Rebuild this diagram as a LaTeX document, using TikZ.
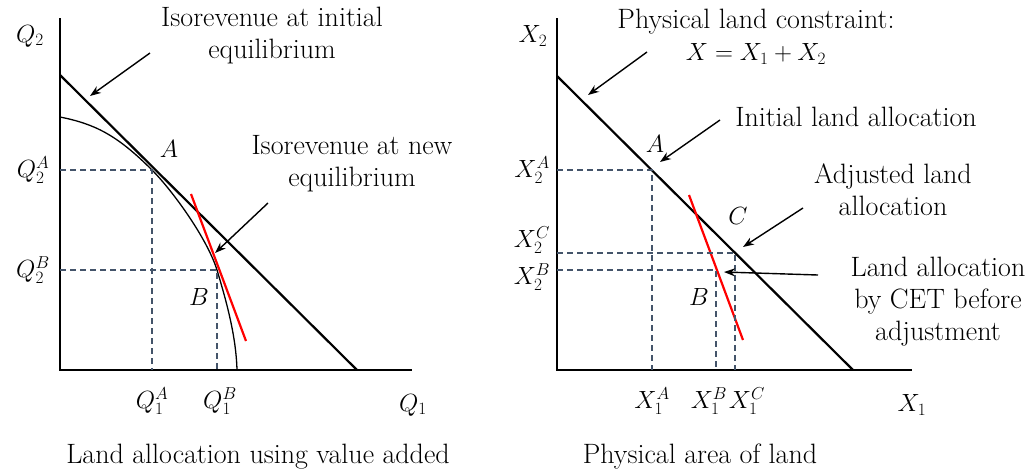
\documentclass[tikz,border=0pt]{standalone}
\usepackage{amsmath}
\usepackage{xcolor}
\usetikzlibrary{arrows.meta, positioning}
\definecolor{guideblue}{HTML}{44546A}

\begin{document}
\begin{tikzpicture}[x=1pt, y=-1pt,
  axis/.style={line width=2.4pt},
  budget/.style={line width=2.2pt},
  cet/.style={line width=1.3pt},
  tangent/.style={line width=2.2pt, red},
  guide/.style={guideblue, line width=1.1pt, dash pattern=on 6pt off 4pt},
  pointer/.style={-{Stealth[length=11pt, width=8pt]}, line width=1.4pt},
  lbl/.style={font=\fontsize{28}{32}\selectfont, align=center, inner sep=0pt},
  tick/.style={font=\fontsize{26}{30}\selectfont, inner sep=0pt}
]
  \useasboundingbox (0,0) rectangle (1036,475);

  % ---- Left panel: value added ----
  \coordinate (lO) at (60,370);
  \draw[axis] (60,18) -- (lO) -- (412,370);
  \coordinate (lA) at (152,170);
  \coordinate (lB) at (217,270);

  % isorevenue line and CET frontier
  \draw[budget] (60,75) -- (357,370);
  \draw[cet] (60,117) .. controls (95,124) and (117,135) .. (lA)
    .. controls (172,190) and (207,238) .. (lB)
    .. controls (226,300) and (236,335) .. (237,370);
  \draw[tangent] (191,194) -- (246,341);

  % guides
  \draw[guide] (60,170) -- (lA) -- (152,370);
  \draw[guide] (60,270) -- (lB) -- (217,370);

  % labels
  \node[tick] (lq2)  at (30,36)   {$Q_2$};
  \node[tick] (lq2a) at (33,170)  {$Q_2^A$};
  \node[tick] (lq2b) at (33,270)  {$Q_2^B$};
  \node[tick] (lq1a) at (152,401) {$Q_1^A$};
  \node[tick] (lq1b) at (220,401) {$Q_1^B$};
  \node[tick] (lq1)  at (413,405) {$Q_1$};
  \node[tick] (lAl)  at (169,149) {$A$};
  \node[tick] (lBl)  at (199,297) {$B$};

  \node[lbl] (isoInit) at (272,36) {Isorevenue at initial\\equilibrium};
  \node[lbl] (isoNew)  at (352,164) {Isorevenue at new\\equilibrium};
  \node[lbl] (capL)    at (258,457) {Land allocation using value added};

  \coordinate (isoInitS) at (150,53);
  \coordinate (isoInitE) at (90,96);
  \coordinate (isoNewS)  at (268,203);
  \coordinate (isoNewE)  at (215,253);
  \draw[pointer] (isoInitS) -- (isoInitE);
  \draw[pointer] (isoNewS) -- (isoNewE);

  % ---- Right panel: physical land ----
  \coordinate (rO) at (557,370);
  \draw[axis] (557,18) -- (rO) -- (912,370);
  \coordinate (rA) at (652,170);
  \coordinate (rB) at (716,270);
  \coordinate (rC) at (735,253);

  \draw[budget] (557,76) -- (853,370);
  \draw[tangent] (689,195) -- (743,340);

  \draw[guide] (557,170) -- (rA) -- (652,370);
  \draw[guide] (557,253) -- (rC) -- (735,370);
  \draw[guide] (557,270) -- (rB) -- (716,370);

  \node[tick] (rx2)  at (533,36)  {$X_2$};
  \node[tick] (rx2a) at (532,170) {$X_2^A$};
  \node[tick] (rx2c) at (532,240) {$X_2^C$};
  \node[tick] (rx2b) at (532,277) {$X_2^B$};
  \node[tick] (rx1a) at (652,401) {$X_1^A$};
  \node[tick] (rx1b) at (709,401) {$X_1^B$};
  \node[tick] (rx1c) at (747,401) {$X_1^C$};
  \node[tick] (rx1)  at (912,405) {$X_1$};
  \node[tick] (rAl)  at (655,144) {$A$};
  \node[tick] (rCl)  at (738,216) {$C$};
  \node[tick] (rBl)  at (699,297) {$B$};

  \node[lbl] (constr) at (756,37) {Physical land constraint:\\{\fontsize{25}{32}\selectfont$X = X_1 + X_2$}};
  \node[lbl] (initAl) at (856,117) {Initial land allocation};
  \node[lbl] (adjAl)  at (893,190) {Adjusted land\\allocation};
  \node[lbl] (cetAl)  at (938,302) {Land allocation\\by CET before\\adjustment};
  \node[lbl] (capR)   at (700,457) {Physical area of land};

  \coordinate (constrS) at (647,52);
  \coordinate (constrE) at (588,95);
  \coordinate (initAlS) at (720,120);
  \coordinate (initAlE) at (660,162);
  \coordinate (adjAlS)  at (803,208);
  \coordinate (adjAlE)  at (743,247);
  \coordinate (cetAlS)  at (818,275);
  \coordinate (cetAlE)  at (724,272);
  \draw[pointer] (constrS) -- (constrE);
  \draw[pointer] (initAlS) -- (initAlE);
  \draw[pointer] (adjAlS) -- (adjAlE);
  \draw[pointer] (cetAlS) -- (cetAlE);
\end{tikzpicture}
\end{document}
